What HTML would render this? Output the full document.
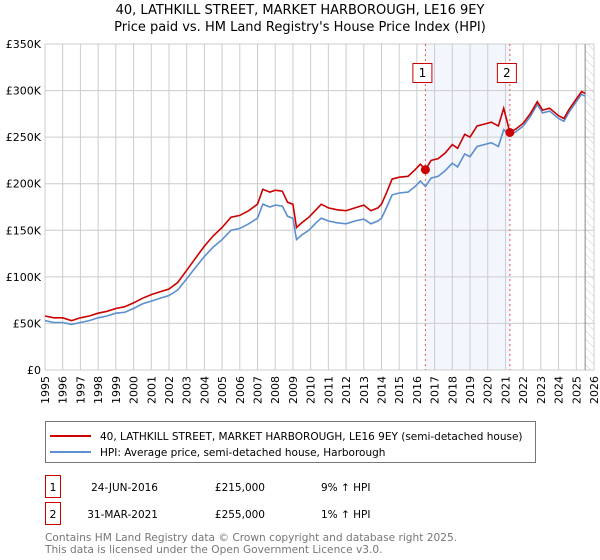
<!DOCTYPE html>
<html><head><meta charset="utf-8"><style>
body{margin:0;background:#fff;font-family:"Liberation Sans","DejaVu Sans",sans-serif;}
svg{display:block}
text{font-family:"DejaVu Sans","Liberation Sans",sans-serif;}
</style></head><body>
<svg id="chart" width="600" height="560" viewBox="0 0 600 560">
<defs><pattern id="hatch" width="6" height="6" patternUnits="userSpaceOnUse" patternTransform="rotate(-45)"><line x1="0" y1="0" x2="0" y2="6" stroke="#ccc" stroke-width="1"/></pattern></defs>
<text x="300" y="14" text-anchor="middle" font-size="13" fill="#000">40, LATHKILL STREET, MARKET HARBOROUGH, LE16 9EY</text>
<text x="300" y="31" text-anchor="middle" font-size="13" fill="#000">Price paid vs. HM Land Registry's House Price Index (HPI)</text>
<g id="plot"></g>
<rect x="45.5" y="421.5" width="490" height="41" fill="#fff" stroke="#777"/>
<line x1="50" y1="436" x2="91" y2="436" stroke="#cc0000" stroke-width="2"/>
<text x="100" y="440" font-size="10.5">40, LATHKILL STREET, MARKET HARBOROUGH, LE16 9EY (semi-detached house)</text>
<line x1="50" y1="452" x2="91" y2="452" stroke="#5b8fd0" stroke-width="2"/>
<text x="100" y="456" font-size="10.5">HPI: Average price, semi-detached house, Harborough</text>
<rect x="45.5" y="475.5" width="15" height="22" fill="#fff" stroke="#cc0000"/>
<text x="53" y="491" font-size="11" text-anchor="middle">1</text>
<text x="158" y="491" font-size="10.5" text-anchor="end">24-JUN-2016</text>
<text x="265" y="491" font-size="10.5" text-anchor="end">£215,000</text>
<text x="321" y="491" font-size="10.5">9% ↑ HPI</text>
<rect x="45.5" y="502.5" width="15" height="22" fill="#fff" stroke="#cc0000"/>
<text x="53" y="518" font-size="11" text-anchor="middle">2</text>
<text x="158" y="518" font-size="10.5" text-anchor="end">31-MAR-2021</text>
<text x="265" y="518" font-size="10.5" text-anchor="end">£255,000</text>
<text x="321" y="518" font-size="10.5">1% ↑ HPI</text>
<text x="45" y="541" font-size="10.6" fill="#777">Contains HM Land Registry data © Crown copyright and database right 2025.</text>
<text x="45" y="553" font-size="10.6" fill="#777">This data is licensed under the Open Government Licence v3.0.</text>
</svg>
<script>
const years=[1995.0,1995.5,1996.0,1996.5,1997.0,1997.5,1998.0,1998.5,1999.0,1999.5,2000.0,2000.5,2001.0,2001.5,2002.0,2002.5,2003.0,2003.5,2004.0,2004.5,2005.0,2005.5,2006.0,2006.5,2007.0,2007.3,2007.7,2008.0,2008.4,2008.7,2009.0,2009.2,2009.5,2009.9,2010.3,2010.6,2011.0,2011.5,2012.0,2012.5,2013.0,2013.4,2013.8,2014.0,2014.3,2014.6,2015.0,2015.5,2015.9,2016.2,2016.48,2016.8,2017.2,2017.6,2018.0,2018.3,2018.7,2019.0,2019.4,2019.8,2020.2,2020.6,2020.9,2021.25,2021.6,2022.0,2022.4,2022.8,2023.1,2023.5,2024.0,2024.3,2024.6,2025.0,2025.3,2025.5];
const hpiValues=[53,51,51,49,51,53,56,58,61,62,66,71,74,77,80,86,98,110,122,132,140,150,152,157,163,178,175,177,176,165,163,140,145,150,158,163,160,158,157,160,162,157,160,163,175,188,190,191,197,203,197,206,208,214,222,218,232,229,240,242,244,240,258,252,256,262,272,285,276,278,270,267,277,288,296,294];
const priceValues=[58,56,56,53,56,58,61,63,66,68,72,77,81,84,87,94,107,120,133,144,153,164,166,171,178,194,191,193,192,180,178,153,158,164,172,178,174,172,171,174,177,171,174,178,191,205,207,208,215,221,215,225,227,233,242,238,253,250,262,264,266,262,281,255,259,265,275,288,279,281,273,270,280,291,299,297];
const yTicks=[0,50,100,150,200,250,300,350];
const yTickLabels=["£0","£50K","£100K","£150K","£200K","£250K","£300K","£350K"];
const xTicks=[1995,1996,1997,1998,1999,2000,2001,2002,2003,2004,2005,2006,2007,2008,2009,2010,2011,2012,2013,2014,2015,2016,2017,2018,2019,2020,2021,2022,2023,2024,2025,2026];
const saleYears=[2016.48,2021.25];
const salePrices=[215,255];
const saleLabels=["1","2"];
const dataEndYear=2025.5;

const L=45,R=594,T=44,B=370;
const x=v=>L+(v-1995)/(2026-1995)*(R-L);
const y=v=>B-v/350*(B-T);
const g=document.getElementById('plot');
const NS='http://www.w3.org/2000/svg';
function mk(tag,attrs){const e=document.createElementNS(NS,tag);for(const k in attrs)e.setAttribute(k,attrs[k]);g.appendChild(e);return e;}
let e;
e=mk('rect',{x:x(saleYears[0]),y:T,width:x(saleYears[1])-x(saleYears[0]),height:B-T,fill:'#eef3fc',opacity:0.7});


e=mk('rect',{x:x(dataEndYear),y:T,width:R-x(dataEndYear),height:B-T,fill:'url(#hatch)'});


xTicks.forEach((t,i)=>{
 e=mk('line',{x1:x(t),y1:T,x2:x(t),y2:B,stroke:'#ccc','stroke-width':1});
 
 
 e=mk('text',{x:0,y:0,'font-size':11,'text-anchor':'end',transform:`translate(${x(t)+4},${B+6}) rotate(-90)`});
 e.textContent=t;
 
 
});
yTicks.forEach((t,i)=>{
 e=mk('line',{x1:L,y1:y(t),x2:R,y2:y(t),stroke:'#ccc','stroke-width':1});
 
 
 e=mk('text',{x:L-4,y:y(t)+4,'font-size':11,'text-anchor':'end'});
 e.textContent=yTickLabels[i];
 
 
});
e=mk('line',{x1:x(dataEndYear),y1:T,x2:x(dataEndYear),y2:B,stroke:'#888','stroke-width':1});


saleYears.forEach((s,i)=>{
 e=mk('line',{x1:x(s),y1:T,x2:x(s),y2:B,stroke:'#ee5555','stroke-width':1,'stroke-dasharray':'2,3'});
 
 
 e=mk('rect',{x:x(s)-12.5,y:63.5,width:19,height:19,fill:'#fff',stroke:'#cc0000'});
 
 
 e=mk('text',{x:x(s)-3,y:77,'font-size':12,'text-anchor':'middle'});
 e.textContent=saleLabels[i];
 
 
});
const pts=a=>a.map((v,i)=>x(years[i]).toFixed(1)+','+y(v).toFixed(1)).join(' ');
e=mk('polyline',{points:pts(hpiValues),fill:'none',stroke:'#5b8fd0','stroke-width':1.6});


e=mk('polyline',{points:pts(priceValues),fill:'none',stroke:'#cc0000','stroke-width':1.6});


saleYears.forEach((s,i)=>{
 e=mk('circle',{cx:x(s),cy:y(salePrices[i]),r:4.5,fill:'#cc0000'});
 
 
});
</script>
</body></html>
